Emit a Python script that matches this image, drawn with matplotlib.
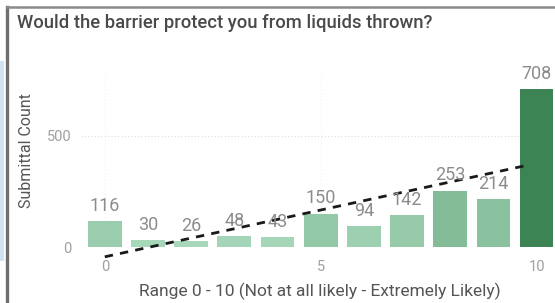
import matplotlib
matplotlib.use("Agg")
import matplotlib.pyplot as plt
import numpy as np
from matplotlib.colors import to_rgb
from matplotlib.lines import Line2D
from matplotlib.patches import Rectangle

scores = [0, 1, 2, 3, 4, 5, 6, 7, 8, 9, 10]
counts = [116, 30, 26, 48, 43, 150, 94, 142, 253, 214, 708]
title = "Would the barrier protect you from liquids thrown?"
xlabel = "Range 0 - 10 (Not at all likely - Extremely Likely)"
ylabel = "Submittal Count"

plt.rcParams['font.family'] = ['Roboto', 'DejaVu Sans']

fig = plt.figure(figsize=(5.55, 3.03), dpi=100)
fig.patch.set_facecolor("white")

# frame decorations
fig.add_artist(Rectangle((0, 0.14), 0.007, 0.66, transform=fig.transFigure,
                         facecolor="#cfe3f3", edgecolor="none"))
fig.add_artist(Line2D([0.013, 0.013], [0, 0.978], transform=fig.transFigure,
                      color="#6f6f6f", lw=2.4))
fig.add_artist(Line2D([0.013, 1.0], [0.976, 0.976], transform=fig.transFigure,
                      color="#8a8a8a", lw=1.8))

ax = fig.add_axes([0.146, 0.1848, 0.852, 0.574])

light = np.array(to_rgb("#a8d8bb"))
dark = np.array(to_rgb("#3c8453"))
cmin, cmax = min(counts), max(counts)
colors = [tuple(light + (dark - light) * (c - cmin) / (cmax - cmin)) for c in counts]

ax.bar(scores, counts, width=0.78, color=colors, zorder=2)

for x, c in zip(scores, counts):
    ax.annotate(str(c), (x, c), xytext=(0, 11), textcoords="offset points",
                ha="center", va="center", fontsize=13, color="#8c8c8c",
                zorder=4, annotation_clip=False)

slope, intercept = np.polyfit(scores, counts, 1)
xs = np.array([scores[0], scores[-1] - 0.2])
ax.plot(xs, slope * xs + intercept, color="#1a1a1a", lw=2.0,
        linestyle=(0, (3, 2.6)), zorder=3, clip_on=False)

ax.set_xlim(-0.55, 10.4)
ax.set_ylim(0, 780)
ax.set_xticks([0, 5, 10])
ax.set_yticks([0, 500])
ax.tick_params(axis="x", length=0, labelsize=10.5, colors="#a0a0a0", pad=9)
ax.tick_params(axis="y", length=0, labelsize=10.5, colors="#a0a0a0", pad=7)
ax.grid(axis="y", color="#dddddd", linestyle=(0, (1, 2)), lw=0.8, zorder=0)
ax.grid(axis="x", color="#f0f0f0", linestyle=(0, (1, 2)), lw=0.8, zorder=0)
for s in ax.spines.values():
    s.set_visible(False)

fig.text(320 / 555, 1 - 291 / 303, xlabel, fontsize=12.5, color="#555555",
         ha="center", va="center")
fig.text(27 / 555, 1 - 151 / 303, ylabel, fontsize=11.5, color="#555555",
         ha="center", va="center", rotation=90)
fig.text(17 / 555, 1 - 28 / 303, title, fontsize=13.3, color="#4a4a4a",
         fontweight="medium", ha="left", va="baseline")

fig.savefig("out.png", dpi=100)
